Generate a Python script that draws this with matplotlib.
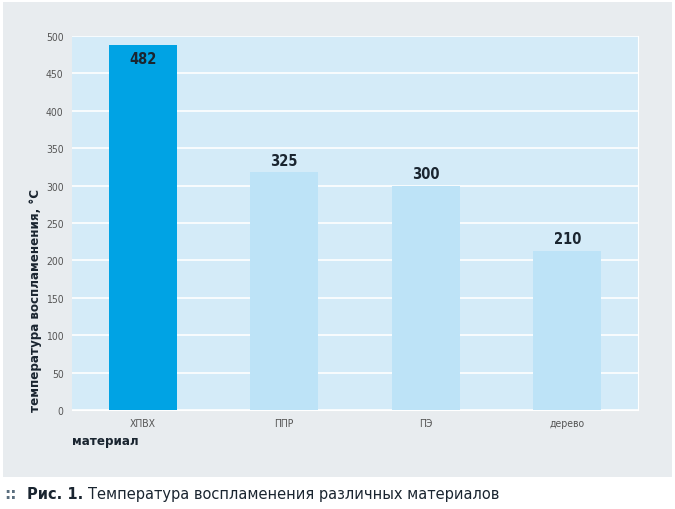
import matplotlib
matplotlib.use("Agg")
import matplotlib.pyplot as plt
from matplotlib.patches import Rectangle
from matplotlib import font_manager

categories = ["ХПВХ", "ППР", "ПЭ", "дерево"]
bar_heights = [488, 318, 300, 213]
value_labels = ["482", "325", "300", "210"]
yticks = [0, 50, 100, 150, 200, 250, 300, 350, 400, 450, 500]

names = {f.name for f in font_manager.fontManager.ttflist}
if "Liberation Sans Narrow" in names:
    cond = dict(fontfamily="Liberation Sans Narrow")
else:
    cond = dict(fontfamily="DejaVu Sans", fontstretch="condensed")

W, H = 675, 510
fig = plt.figure(figsize=(W / 100, H / 100), dpi=100)
fig.patch.set_facecolor("white")

# outer panel
fig.patches.append(Rectangle((3 / W, 1 - 478 / H), 669 / W, 475 / H,
                             transform=fig.transFigure, facecolor="#e8ecef",
                             edgecolor="none", zorder=-5))

ax = fig.add_axes([72 / W, 1 - 411 / H, 566 / W, 374 / H])
ax.set_zorder(2)
ax.set_facecolor("#d4ebf8")
colors = ["#00a3e4"] + ["#bde3f7"] * 3
x = range(len(categories))
ax.bar(x, bar_heights, width=0.48, color=colors, zorder=3)
ax.set_xlim(-0.5, 3.5)
ax.set_ylim(0, 500)
ax.set_yticks(yticks)
ax.set_yticklabels([str(t) for t in yticks], fontsize=7.5, color="#555555", **cond)
ax.set_xticks(list(x))
ax.set_xticklabels(categories, fontsize=7.5, color="#555555", **cond)
ax.tick_params(length=0, pad=6, axis="y")
ax.tick_params(length=0, pad=6, axis="x")
ax.grid(axis="y", color="white", linewidth=1.2, zorder=1)
for s in ax.spines.values():
    s.set_visible(False)
ax.spines["bottom"].set_visible(True)
ax.spines["bottom"].set_color("white")
ax.spines["right"].set_visible(True)
ax.spines["right"].set_color("white")

for i, (h, lab) in enumerate(zip(bar_heights, value_labels)):
    if i == 0:
        ax.text(i, h - 8, lab, ha="center", va="top", fontweight="bold",
                fontsize=10.5, color="#1a2530", zorder=4, **cond)
    else:
        ax.text(i, h + 6, lab, ha="center", va="bottom", fontweight="bold",
                fontsize=10.5, color="#1a2530", zorder=4, **cond)

fig.text(36 / W, 1 - 412 / H, "температура воспламенения, °С", rotation=90,
         ha="center", va="bottom", fontweight="bold",
         fontsize=9.5, color="#1a2530", **cond)
fig.text(72 / W, 1 - 441 / H, "материал", ha="left", va="center",
         fontweight="bold", fontsize=9.5, color="#1a2530", **cond)

# caption
fig.text(4 / W, 1 - 495 / H, "::", ha="left", va="center", fontsize=11,
         fontweight="bold", color="#5a6e7e")
fig.text(27 / W, 1 - 495 / H, "Рис. 1.", ha="left", va="center",
         fontfamily="DejaVu Sans", fontweight="bold", fontsize=10.5, color="#1a2530")
fig.text(88 / W, 1 - 495 / H, "Температура воспламенения различных материалов",
         ha="left", va="center", fontfamily="DejaVu Sans", fontsize=10.5,
         color="#1a2530")

fig.savefig("out.png", dpi=100, facecolor="white")
